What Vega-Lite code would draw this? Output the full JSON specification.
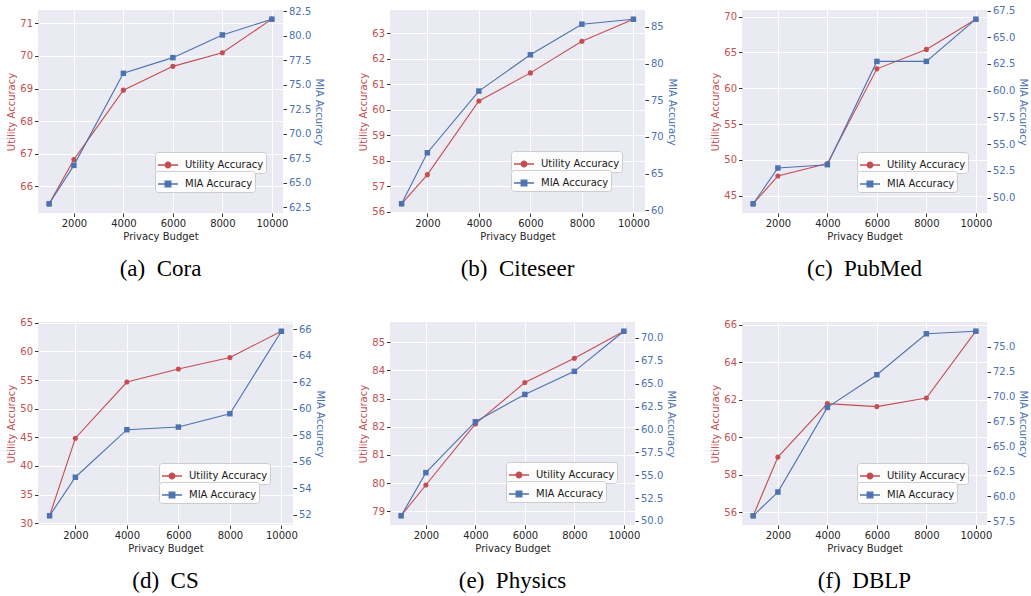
{
  "$schema": "https://vega.github.io/schema/vega-lite/v6.json",
  "padding": {"left": 6, "top": 5, "right": 2, "bottom": 3},
  "background": "white",
  "datasets": {
    "cora": [
      {"budget": 1000, "utility": 65.46, "mia": 62.84},
      {"budget": 2000, "utility": 66.82, "mia": 66.77},
      {"budget": 4000, "utility": 68.95, "mia": 76.18},
      {"budget": 6000, "utility": 69.68, "mia": 77.78},
      {"budget": 8000, "utility": 70.10, "mia": 80.10},
      {"budget": 10000, "utility": 71.13, "mia": 81.71}
    ],
    "citeseer": [
      {"budget": 1000, "utility": 56.32, "mia": 60.9},
      {"budget": 2000, "utility": 57.46, "mia": 67.85},
      {"budget": 4000, "utility": 60.34, "mia": 76.25},
      {"budget": 6000, "utility": 61.44, "mia": 81.19},
      {"budget": 8000, "utility": 62.68, "mia": 85.36},
      {"budget": 10000, "utility": 63.54, "mia": 86.03}
    ],
    "pubmed": [
      {"budget": 1000, "utility": 43.88, "mia": 49.41},
      {"budget": 2000, "utility": 47.76, "mia": 52.76},
      {"budget": 4000, "utility": 49.49, "mia": 53.07},
      {"budget": 6000, "utility": 62.71, "mia": 62.74},
      {"budget": 8000, "utility": 65.42, "mia": 62.74},
      {"budget": 10000, "utility": 69.63, "mia": 66.69}
    ],
    "cs": [
      {"budget": 1000, "utility": 31.29, "mia": 51.92},
      {"budget": 2000, "utility": 44.84, "mia": 54.83},
      {"budget": 4000, "utility": 54.66, "mia": 58.42},
      {"budget": 6000, "utility": 56.94, "mia": 58.62},
      {"budget": 8000, "utility": 58.93, "mia": 59.63},
      {"budget": 10000, "utility": 63.54, "mia": 65.86}
    ],
    "physics": [
      {"budget": 1000, "utility": 78.84, "mia": 50.57},
      {"budget": 2000, "utility": 79.93, "mia": 55.28},
      {"budget": 4000, "utility": 82.10, "mia": 60.84},
      {"budget": 6000, "utility": 83.57, "mia": 63.82},
      {"budget": 8000, "utility": 84.43, "mia": 66.34},
      {"budget": 10000, "utility": 85.39, "mia": 70.72}
    ],
    "dblp": [
      {"budget": 1000, "utility": 55.82, "mia": 58.06},
      {"budget": 2000, "utility": 58.95, "mia": 60.44},
      {"budget": 4000, "utility": 61.80, "mia": 68.92},
      {"budget": 6000, "utility": 61.64, "mia": 72.19},
      {"budget": 8000, "utility": 62.10, "mia": 76.29},
      {"budget": 10000, "utility": 65.66, "mia": 76.55}
    ]
  },
  "columns": 3,
  "spacing": {"column": 97, "row": 109},
  "bounds": "flush",
  "concat": [
    {
      "width": 245, "height": 203,
      "data": {"name": "cora"},
      "title": {"text": "(a)\u00a0 Cora"},
      "encoding": {"x": {"field": "budget", "type": "quantitative", "scale": {"domain": [550, 10450], "nice": false, "zero": false}, "axis": {"values": [2000, 4000, 6000, 8000, 10000], "title": "Privacy Budget", "format": "d"}}},
      "layer": [
        {"mark": {"type": "line", "strokeWidth": 1.1, "point": {"filled": true, "size": 26, "shape": "circle"}},
         "encoding": {"y": {"field": "utility", "type": "quantitative", "scale": {"domain": [65.18, 71.41], "nice": false, "zero": false}, "axis": {"values": [66, 67, 68, 69, 70, 71], "format": "d", "title": "Utility Accuracy", "labelColor": "#C44E52", "titleColor": "#C44E52", "grid": true}},
                      "color": {"datum": "Utility Accuracy", "scale": {"range": ["#C44E52"]}, "legend": {"orient": "none", "legendX": 117, "legendY": 142, "symbolType": "M-1,0H1M0.28,0A0.28,0.28,0,1,1,-0.28,0A0.28,0.28,0,1,1,0.28,0Z", "symbolFillColor": "#C44E52", "symbolStrokeColor": "#C44E52"}}}},
        {"mark": {"type": "line", "strokeWidth": 1.1, "point": {"filled": true, "size": 30, "shape": "square"}},
         "encoding": {"y": {"field": "mia", "type": "quantitative", "scale": {"domain": [61.9, 82.65], "nice": false, "zero": false}, "axis": {"values": [62.5, 65, 67.5, 70, 72.5, 75, 77.5, 80, 82.5], "format": ".1f", "title": "MIA Accuracy", "labelColor": "#4C72B0", "titleColor": "#4C72B0", "grid": false}},
                      "color": {"datum": "MIA Accuracy", "scale": {"range": ["#4C72B0"]}, "legend": {"orient": "none", "legendX": 117, "legendY": 161, "symbolType": "M-1,0H1M-0.28,-0.28H0.28V0.28H-0.28Z", "symbolFillColor": "#4C72B0", "symbolStrokeColor": "#4C72B0"}}}}
      ],
      "resolve": {"scale": {"y": "independent", "color": "independent"}}
    },
    {
      "width": 255, "height": 203,
      "data": {"name": "citeseer"},
      "title": {"text": "(b)\u00a0 Citeseer"},
      "encoding": {"x": {"field": "budget", "type": "quantitative", "scale": {"domain": [550, 10450], "nice": false, "zero": false}, "axis": {"values": [2000, 4000, 6000, 8000, 10000], "title": "Privacy Budget", "format": "d"}}},
      "layer": [
        {"mark": {"type": "line", "strokeWidth": 1.1, "point": {"filled": true, "size": 26, "shape": "circle"}},
         "encoding": {"y": {"field": "utility", "type": "quantitative", "scale": {"domain": [55.96, 63.9], "nice": false, "zero": false}, "axis": {"values": [56, 57, 58, 59, 60, 61, 62, 63], "format": "d", "title": "Utility Accuracy", "labelColor": "#C44E52", "titleColor": "#C44E52", "grid": true}},
                      "color": {"datum": "Utility Accuracy", "scale": {"range": ["#C44E52"]}, "legend": {"orient": "none", "legendX": 121, "legendY": 141, "symbolType": "M-1,0H1M0.28,0A0.28,0.28,0,1,1,-0.28,0A0.28,0.28,0,1,1,0.28,0Z", "symbolFillColor": "#C44E52", "symbolStrokeColor": "#C44E52"}}}},
        {"mark": {"type": "line", "strokeWidth": 1.1, "point": {"filled": true, "size": 30, "shape": "square"}},
         "encoding": {"y": {"field": "mia", "type": "quantitative", "scale": {"domain": [59.64, 87.29], "nice": false, "zero": false}, "axis": {"values": [60, 65, 70, 75, 80, 85], "format": "d", "title": "MIA Accuracy", "labelColor": "#4C72B0", "titleColor": "#4C72B0", "grid": false}},
                      "color": {"datum": "MIA Accuracy", "scale": {"range": ["#4C72B0"]}, "legend": {"orient": "none", "legendX": 121, "legendY": 160, "symbolType": "M-1,0H1M-0.28,-0.28H0.28V0.28H-0.28Z", "symbolFillColor": "#4C72B0", "symbolStrokeColor": "#4C72B0"}}}}
      ],
      "resolve": {"scale": {"y": "independent", "color": "independent"}}
    },
    {
      "width": 245, "height": 203,
      "data": {"name": "pubmed"},
      "title": {"text": "(c)\u00a0 PubMed"},
      "encoding": {"x": {"field": "budget", "type": "quantitative", "scale": {"domain": [550, 10450], "nice": false, "zero": false}, "axis": {"values": [2000, 4000, 6000, 8000, 10000], "title": "Privacy Budget", "format": "d"}}},
      "layer": [
        {"mark": {"type": "line", "strokeWidth": 1.1, "point": {"filled": true, "size": 26, "shape": "circle"}},
         "encoding": {"y": {"field": "utility", "type": "quantitative", "scale": {"domain": [42.59, 70.92], "nice": false, "zero": false}, "axis": {"values": [45, 50, 55, 60, 65, 70], "format": "d", "title": "Utility Accuracy", "labelColor": "#C44E52", "titleColor": "#C44E52", "grid": true}},
                      "color": {"datum": "Utility Accuracy", "scale": {"range": ["#C44E52"]}, "legend": {"orient": "none", "legendX": 115, "legendY": 142, "symbolType": "M-1,0H1M0.28,0A0.28,0.28,0,1,1,-0.28,0A0.28,0.28,0,1,1,0.28,0Z", "symbolFillColor": "#C44E52", "symbolStrokeColor": "#C44E52"}}}},
        {"mark": {"type": "line", "strokeWidth": 1.1, "point": {"filled": true, "size": 30, "shape": "square"}},
         "encoding": {"y": {"field": "mia", "type": "quantitative", "scale": {"domain": [48.55, 67.55], "nice": false, "zero": false}, "axis": {"values": [50, 52.5, 55, 57.5, 60, 62.5, 65, 67.5], "format": ".1f", "title": "MIA Accuracy", "labelColor": "#4C72B0", "titleColor": "#4C72B0", "grid": false}},
                      "color": {"datum": "MIA Accuracy", "scale": {"range": ["#4C72B0"]}, "legend": {"orient": "none", "legendX": 115, "legendY": 161, "symbolType": "M-1,0H1M-0.28,-0.28H0.28V0.28H-0.28Z", "symbolFillColor": "#4C72B0", "symbolStrokeColor": "#4C72B0"}}}}
      ],
      "resolve": {"scale": {"y": "independent", "color": "independent"}}
    },
    {
      "width": 255, "height": 203,
      "data": {"name": "cs"},
      "title": {"text": "(d)\u00a0 CS"},
      "encoding": {"x": {"field": "budget", "type": "quantitative", "scale": {"domain": [550, 10450], "nice": false, "zero": false}, "axis": {"values": [2000, 4000, 6000, 8000, 10000], "title": "Privacy Budget", "format": "d"}}},
      "layer": [
        {"mark": {"type": "line", "strokeWidth": 1.1, "point": {"filled": true, "size": 26, "shape": "circle"}},
         "encoding": {"y": {"field": "utility", "type": "quantitative", "scale": {"domain": [29.68, 65.15], "nice": false, "zero": false}, "axis": {"values": [30, 35, 40, 45, 50, 55, 60, 65], "format": "d", "title": "Utility Accuracy", "labelColor": "#C44E52", "titleColor": "#C44E52", "grid": true}},
                      "color": {"datum": "Utility Accuracy", "scale": {"range": ["#C44E52"]}, "legend": {"orient": "none", "legendX": 121, "legendY": 141, "symbolType": "M-1,0H1M0.28,0A0.28,0.28,0,1,1,-0.28,0A0.28,0.28,0,1,1,0.28,0Z", "symbolFillColor": "#C44E52", "symbolStrokeColor": "#C44E52"}}}},
        {"mark": {"type": "line", "strokeWidth": 1.1, "point": {"filled": true, "size": 30, "shape": "square"}},
         "encoding": {"y": {"field": "mia", "type": "quantitative", "scale": {"domain": [51.22, 66.56], "nice": false, "zero": false}, "axis": {"values": [52, 54, 56, 58, 60, 62, 64, 66], "format": "d", "title": "MIA Accuracy", "labelColor": "#4C72B0", "titleColor": "#4C72B0", "grid": false}},
                      "color": {"datum": "MIA Accuracy", "scale": {"range": ["#4C72B0"]}, "legend": {"orient": "none", "legendX": 121, "legendY": 160, "symbolType": "M-1,0H1M-0.28,-0.28H0.28V0.28H-0.28Z", "symbolFillColor": "#4C72B0", "symbolStrokeColor": "#4C72B0"}}}}
      ],
      "resolve": {"scale": {"y": "independent", "color": "independent"}}
    },
    {
      "width": 245, "height": 203,
      "data": {"name": "physics"},
      "title": {"text": "(e)\u00a0 Physics"},
      "encoding": {"x": {"field": "budget", "type": "quantitative", "scale": {"domain": [550, 10450], "nice": false, "zero": false}, "axis": {"values": [2000, 4000, 6000, 8000, 10000], "title": "Privacy Budget", "format": "d"}}},
      "layer": [
        {"mark": {"type": "line", "strokeWidth": 1.1, "point": {"filled": true, "size": 26, "shape": "circle"}},
         "encoding": {"y": {"field": "utility", "type": "quantitative", "scale": {"domain": [78.51, 85.72], "nice": false, "zero": false}, "axis": {"values": [79, 80, 81, 82, 83, 84, 85], "format": "d", "title": "Utility Accuracy", "labelColor": "#C44E52", "titleColor": "#C44E52", "grid": true}},
                      "color": {"datum": "Utility Accuracy", "scale": {"range": ["#C44E52"]}, "legend": {"orient": "none", "legendX": 116, "legendY": 140, "symbolType": "M-1,0H1M0.28,0A0.28,0.28,0,1,1,-0.28,0A0.28,0.28,0,1,1,0.28,0Z", "symbolFillColor": "#C44E52", "symbolStrokeColor": "#C44E52"}}}},
        {"mark": {"type": "line", "strokeWidth": 1.1, "point": {"filled": true, "size": 30, "shape": "square"}},
         "encoding": {"y": {"field": "mia", "type": "quantitative", "scale": {"domain": [49.56, 71.73], "nice": false, "zero": false}, "axis": {"values": [50, 52.5, 55, 57.5, 60, 62.5, 65, 67.5, 70], "format": ".1f", "title": "MIA Accuracy", "labelColor": "#4C72B0", "titleColor": "#4C72B0", "grid": false}},
                      "color": {"datum": "MIA Accuracy", "scale": {"range": ["#4C72B0"]}, "legend": {"orient": "none", "legendX": 116, "legendY": 159, "symbolType": "M-1,0H1M-0.28,-0.28H0.28V0.28H-0.28Z", "symbolFillColor": "#4C72B0", "symbolStrokeColor": "#4C72B0"}}}}
      ],
      "resolve": {"scale": {"y": "independent", "color": "independent"}}
    },
    {
      "width": 245, "height": 203,
      "data": {"name": "dblp"},
      "title": {"text": "(f)\u00a0 DBLP"},
      "encoding": {"x": {"field": "budget", "type": "quantitative", "scale": {"domain": [550, 10450], "nice": false, "zero": false}, "axis": {"values": [2000, 4000, 6000, 8000, 10000], "title": "Privacy Budget", "format": "d"}}},
      "layer": [
        {"mark": {"type": "line", "strokeWidth": 1.1, "point": {"filled": true, "size": 26, "shape": "circle"}},
         "encoding": {"y": {"field": "utility", "type": "quantitative", "scale": {"domain": [55.33, 66.15], "nice": false, "zero": false}, "axis": {"values": [56, 58, 60, 62, 64, 66], "format": "d", "title": "Utility Accuracy", "labelColor": "#C44E52", "titleColor": "#C44E52", "grid": true}},
                      "color": {"datum": "Utility Accuracy", "scale": {"range": ["#C44E52"]}, "legend": {"orient": "none", "legendX": 115, "legendY": 141, "symbolType": "M-1,0H1M0.28,0A0.28,0.28,0,1,1,-0.28,0A0.28,0.28,0,1,1,0.28,0Z", "symbolFillColor": "#C44E52", "symbolStrokeColor": "#C44E52"}}}},
        {"mark": {"type": "line", "strokeWidth": 1.1, "point": {"filled": true, "size": 30, "shape": "square"}},
         "encoding": {"y": {"field": "mia", "type": "quantitative", "scale": {"domain": [57.14, 77.47], "nice": false, "zero": false}, "axis": {"values": [57.5, 60, 62.5, 65, 67.5, 70, 72.5, 75], "format": ".1f", "title": "MIA Accuracy", "labelColor": "#4C72B0", "titleColor": "#4C72B0", "grid": false}},
                      "color": {"datum": "MIA Accuracy", "scale": {"range": ["#4C72B0"]}, "legend": {"orient": "none", "legendX": 115, "legendY": 160, "symbolType": "M-1,0H1M-0.28,-0.28H0.28V0.28H-0.28Z", "symbolFillColor": "#4C72B0", "symbolStrokeColor": "#4C72B0"}}}}
      ],
      "resolve": {"scale": {"y": "independent", "color": "independent"}}
    }
  ],
  "config": {
    "font": "DejaVu Sans",
    "view": {"fill": "#EAEAF2", "stroke": null},
    "axis": {
      "domain": false,
      "grid": true,
      "gridColor": "#FFFFFF",
      "gridWidth": 1,
      "gridOpacity": 1,
      "tickColor": "#333333",
      "tickSize": 3.5,
      "tickWidth": 1,
      "labelFont": "DejaVu Sans",
      "labelFontSize": 10,
      "labelColor": "#262626",
      "labelPadding": 2,
      "titleFont": "DejaVu Sans",
      "titleFontSize": 10,
      "titleFontWeight": "normal",
      "titleColor": "#262626",
      "titlePadding": 3
    },
    "legend": {
      "title": null,
      "labelFont": "DejaVu Sans",
      "labelFontSize": 10,
      "labelColor": "#1a1a1a",
      "labelOffset": 6,
      "fillColor": "rgba(255,255,255,0.85)",
      "strokeColor": "#cccccc",
      "cornerRadius": 3,
      "padding": 2,
      "symbolSize": 400,
      "symbolStrokeWidth": 1.3
    },
    "title": {
      "orient": "bottom",
      "frame": "group",
      "anchor": "middle",
      "font": "Liberation Serif",
      "fontSize": 23,
      "fontWeight": "normal",
      "color": "#000000",
      "offset": 16
    }
  }
}
